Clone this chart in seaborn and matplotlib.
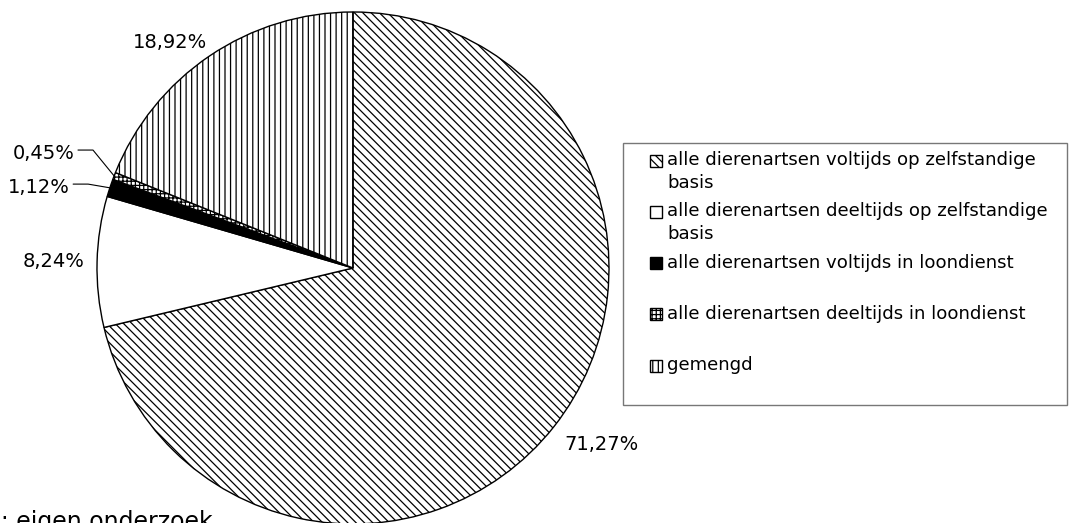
import matplotlib
matplotlib.use("Agg")

import numpy as np
import seaborn as sns
import matplotlib.pyplot as plt
from matplotlib.patches import Rectangle
from matplotlib.legend_handler import HandlerPatch

sns.set_theme(style="white")
plt.rcParams['font.family'] = ['DejaVu Sans']
plt.rcParams['text.color'] = 'black'
plt.rcParams['hatch.linewidth'] = 0.9

# Data
categories = [
    "alle dierenartsen voltijds op zelfstandige\nbasis",
    "alle dierenartsen deeltijds op zelfstandige\nbasis",
    "alle dierenartsen voltijds in loondienst",
    "alle dierenartsen deeltijds in loondienst",
    "gemengd",
]
shares = [71.27, 8.24, 1.12, 0.45, 18.92]
fills = ["white", "white", "black", "white", "white"]
hatches = ["\\\\\\\\", "", "", "++++", "|||"]

W, H = 1073, 523
fig = plt.figure(figsize=(W / 100, H / 100), dpi=100)

# pie centre (353, 268) px, radius 256 px
cx, cy, R = 353, 268, 256
half = 300
ax = fig.add_axes([(cx - half) / W, (H - cy - half) / H, 2 * half / W, 2 * half / H])

wedges, _ = ax.pie(shares, startangle=90, counterclock=False, radius=1,
                   colors=fills, wedgeprops=dict(edgecolor="black", linewidth=1.0))
for w, h in zip(wedges, hatches):
    w.set_hatch(h)

lim = half / R
ax.set_xlim(-lim, lim)
ax.set_ylim(-lim, lim)
ax.set_aspect("equal")
ax.axis("off")

fs = 14
pct_labels = ["{:.2f}%".format(v).replace(".", ",") for v in shares]

# labels for the larger slices, "outside end" style
for i in (0, 1, 4):
    w = wedges[i]
    ang = np.deg2rad((w.theta1 + w.theta2) / 2)
    if abs(np.sin(ang)) < 0.3:
        va, r = "center", 1.05
    elif np.sin(ang) > 0:
        va, r = "bottom", 1.02
    else:
        va, r = "top", 1.05
    x, y = r * np.cos(ang), r * np.sin(ang)
    ax.text(x, y, pct_labels[i], ha="left" if x > 0 else "right", va=va,
            fontsize=fs, color="black")

# small slices with leader lines
small_pos = {2: (-1.105, 0.316), 3: (-1.086, 0.449)}
for i, (tx, ty) in small_pos.items():
    w = wedges[i]
    ang = np.deg2rad((w.theta1 + w.theta2) / 2)
    ex, ey = np.cos(ang), np.sin(ang)
    ax.text(tx, ty, pct_labels[i], ha="right", va="center", fontsize=fs, color="black")
    x0 = tx + 3 / R
    x1 = x0 + 15 / R
    ly = ty + 3 / R
    ax.plot([x0, x1, ex], [ly, ly, ey], color="black", lw=0.8)


def top_square(legend, orig_handle, xdescent, ydescent, width, height, fontsize):
    side = 0.66 * fontsize
    return Rectangle((-xdescent + width - side, -ydescent + 0.62 * fontsize), side, side)


leg_fs = 13.1
leg_labels = [c if "\n" in c else c + "\n" for c in categories]
leg = fig.legend(wedges, leg_labels,
                 loc="upper left",
                 bbox_to_anchor=(623 / W, (H - 408) / H, 444 / W, 265 / H),
                 mode="expand", fontsize=leg_fs, frameon=True, fancybox=False,
                 edgecolor="#555555", borderaxespad=0, borderpad=0.45,
                 handlelength=1.7, handleheight=0.66, handletextpad=0.27,
                 labelspacing=0.58, labelcolor="black",
                 handler_map={w: HandlerPatch(patch_func=top_square) for w in wedges})
leg.get_frame().set_linewidth(1.0)
for t in leg.get_texts():
    t.set_linespacing(1.33)

# source line, partly outside the canvas like the reference
fig.text(213 / W, -6 / H, "Bron: eigen onderzoek", ha="right", va="baseline",
         fontsize=17, color="black")

fig.savefig("out.png", dpi=100)
